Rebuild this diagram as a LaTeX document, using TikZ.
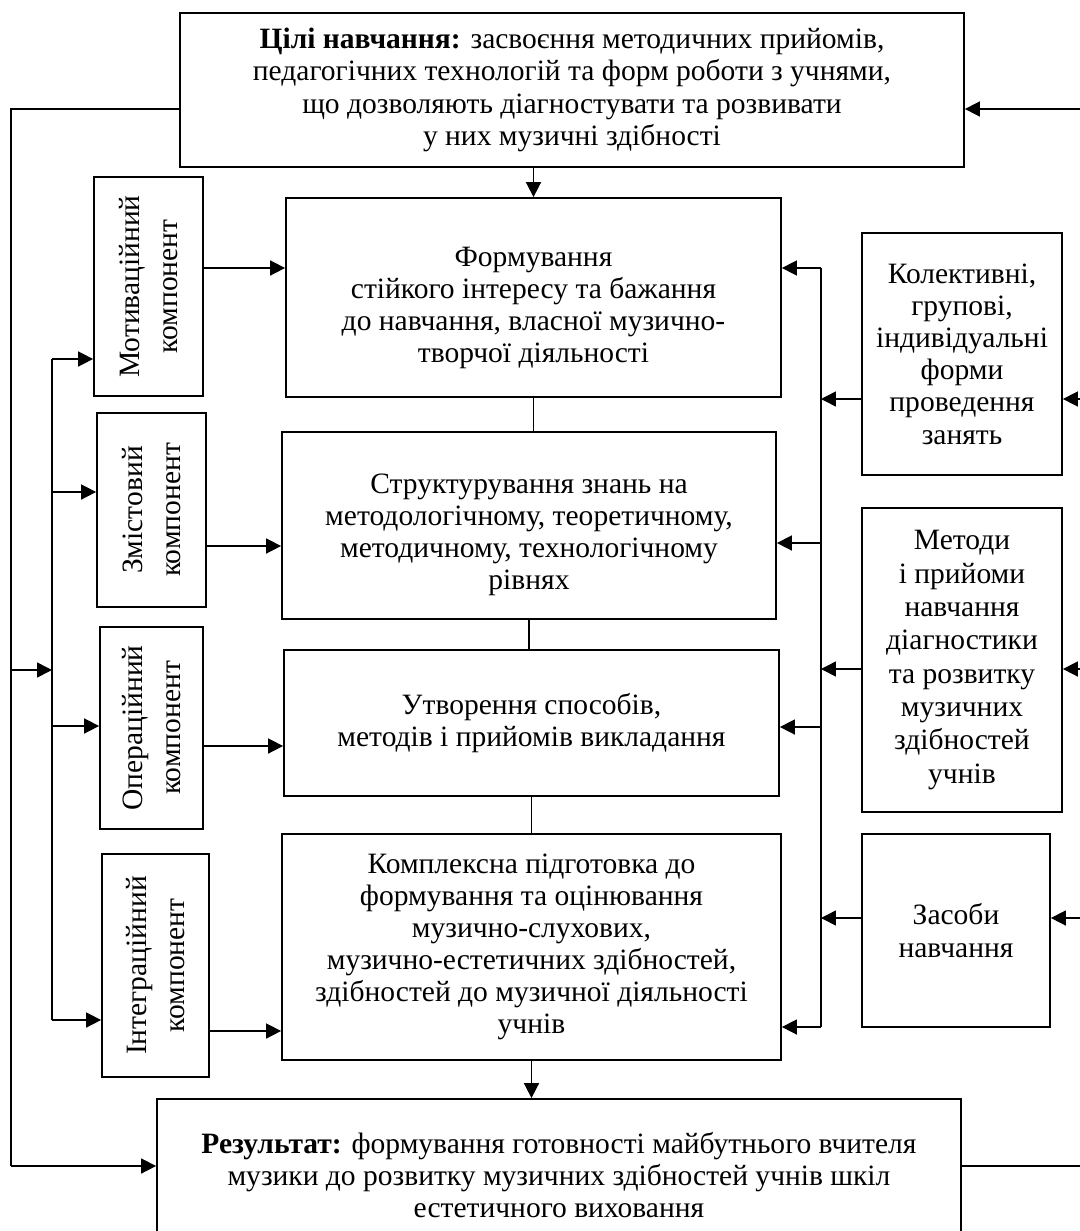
\documentclass[tikz,border=0pt]{standalone}
\usepackage{fontspec}
\setmainfont{Liberation Serif}
\usetikzlibrary{arrows.meta}

\begin{document}
\begin{tikzpicture}[x=0.2mm, y=-0.2mm,
    every node/.style={rectangle, draw=black, line width=1pt, inner sep=0pt, align=center,
        font=\fontsize{16.8}{18.3}\selectfont},
    comp/.style={rotate=90, font=\fontsize{16.8}{22}\selectfont},
    line/.style={line width=0.9pt},
    arr/.style={line width=0.9pt, -{Triangle[length=8.5pt, width=8.5pt]}}]
    \useasboundingbox (0,0) rectangle (1079,1231);

    % goal and result
    \node (goal) at (572,90) [minimum width=156.8mm, minimum height=30.8mm]
        {\textbf{Цілі навчання:} засвоєння методичних прийомів,\\
         педагогічних технологій та форм роботи з учнями,\\
         що дозволяють діагностувати та розвивати\\
         у них музичні здібності};
    \node (result) at (559,1175) [minimum width=160.8mm, minimum height=30.4mm]
        {\textbf{Результат:} формування готовності майбутнього вчителя\\
         музики до розвитку музичних здібностей учнів шкіл\\
         естетичного виховання};

    % components (left), rotated: north is the west side, south the east side
    \node (motiv) at (148.5,286.5) [comp, minimum width=43.8mm, minimum height=21.8mm] {Мотиваційний\\компонент};
    \node (zmist) at (151.5,510) [comp, minimum width=38.8mm, minimum height=21.8mm] {Змістовий\\компонент};
    \node (oper) at (151.5,728) [comp, minimum width=40.4mm, minimum height=20.6mm] {Операційний\\компонент};
    \node (integr) at (155.5,965.5) [comp, minimum width=44.6mm, minimum height=21.4mm] {Інтеграційний\\компонент};

    % main column
    \node (main1) at (533.5,297.5) [minimum width=99mm, minimum height=39.8mm]
        {\rule{0pt}{23pt}Формування\\стійкого інтересу та бажання\\до навчання, власної музично-\\творчої діяльності};
    \node (main2) at (529,525.5) [minimum width=98.8mm, minimum height=37.4mm]
        {\rule{0pt}{22pt}Структурування знань на\\методологічному, теоретичному,\\методичному, технологічному\\рівнях};
    \node (main3) at (531.5,723) [minimum width=99mm, minimum height=29.2mm]
        {Утворення способів,\\методів і прийомів викладання};
    \node (main4) at (531.5,947) [minimum width=99.8mm, minimum height=45.2mm]
        {Комплексна підготовка до\\формування та оцінювання\\музично-слухових,\\музично-естетичних здібностей,\\здібностей до музичної діяльності\\учнів};

    % forms, methods, means (right)
    \node (forms) at (962,354) [minimum width=40mm, minimum height=48.4mm]
        {Колективні,\\групові,\\індивідуальні\\форми\\проведення\\занять};
    \node (methods) at (962,660) [minimum width=40mm, minimum height=60.8mm,
        font=\fontsize{16.8}{19}\selectfont]
        {Методи\\і прийоми\\навчання\\діагностики\\та розвитку\\музичних\\здібностей\\учнів};
    \node (means) at (956,930.5) [minimum width=37.6mm, minimum height=38.6mm]
        {Засоби\\навчання};

    \coordinate (outT) at (11,109);
    \coordinate (outB) at (11,1166);
    \coordinate (outJ) at (11,670);
    \coordinate (lb1) at (52,359);
    \coordinate (lb2) at (52,492);
    \coordinate (lb3) at (52,726);
    \coordinate (lb4) at (52,1020);
    \coordinate (rb1) at (821,268);
    \coordinate (rb2) at (821,543);
    \coordinate (rb3) at (821,727);
    \coordinate (rb4) at (821,1027);
    \coordinate (edgeT) at (1095,109);
    \coordinate (edgeF) at (1095,399);
    \coordinate (edgeM) at (1095,669);
    \coordinate (edgeS) at (1095,918);
    \coordinate (edgeB) at (1095,1166);

    % main flow
    \draw[arr] (goal.south -| main1) -- (main1.north);
    \draw[line] (main1.south) -- (main1.south |- main2.north);
    \draw[line] (main2.south) -- (main2.south |- main3.north);
    \draw[line] (main3.south) -- (main3.south |- main4.north);
    \draw[arr] (main4.south) -- (main4.south |- result.north);

    % left feedback and components
    \draw[line] (goal.west |- outT) -- (outT) -- (outB);
    \draw[arr] (outB) -- (outB -| result.west);
    \draw[arr] (outJ) -- (outJ -| lb1);
    \draw[line] (lb1) -- (lb4);
    \draw[arr] (lb1) -- (lb1 -| motiv.north);
    \draw[arr] (lb2) -- (lb2 -| zmist.north);
    \draw[arr] (lb3) -- (lb3 -| oper.north);
    \draw[arr] (lb4) -- (lb4 -| integr.north);
    \draw[arr] (rb1 -| motiv.south) -- (rb1 -| main1.west);
    \draw[arr] (zmist.south |- 0,546) -- (main2.west |- 0,546);
    \draw[arr] (oper.south |- 0,746) -- (main3.west |- 0,746);
    \draw[arr] (integr.south |- 0,1031) -- (main4.west |- 0,1031);

    % right bus
    \draw[line] (rb1) -- (rb4);
    \draw[arr] (rb1) -- (rb1 -| main1.east);
    \draw[arr] (rb2) -- (rb2 -| main2.east);
    \draw[arr] (rb3) -- (rb3 -| main3.east);
    \draw[arr] (rb4) -- (rb4 -| main4.east);
    \draw[arr] (edgeF -| forms.west) -- (edgeF -| rb1);
    \draw[arr] (edgeM -| methods.west) -- (edgeM -| rb1);
    \draw[arr] (edgeS -| means.west) -- (edgeS -| rb1);

    % right feedback
    \draw[line] (result.east |- edgeB) -- (edgeB) -- (edgeT);
    \draw[arr] (edgeT) -- (edgeT -| goal.east);
    \draw[arr] (edgeF) -- (forms.east |- edgeF);
    \draw[arr] (edgeM) -- (methods.east |- edgeM);
    \draw[arr] (edgeS) -- (means.east |- edgeS);
\end{tikzpicture}
\end{document}
